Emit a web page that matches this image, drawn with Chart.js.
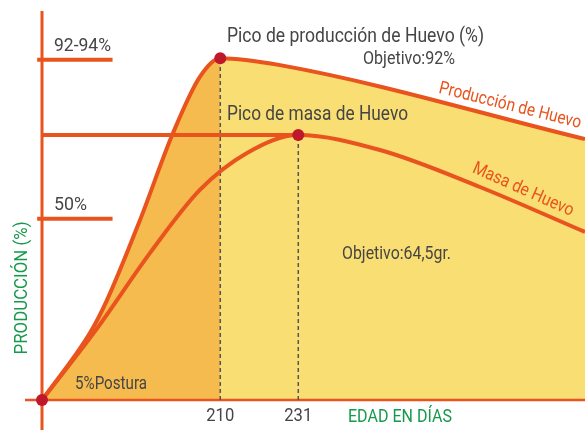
<!DOCTYPE html>
<html>
<head>
<meta charset="utf-8">
<script src="https://cdn.jsdelivr.net/npm/chart.js@4/dist/chart.umd.min.js"></script>
<style>
  html, body { margin: 0; padding: 0; background: #fff; }
  canvas { display: block; }
</style>
</head>
<body>
<canvas id="curva" width="585" height="430"></canvas>
<script>
// ==================== DATOS ====================
// edad en días (eje x) y producción (%)
const diasProd   = [162, 174.9, 179.5, 188.4, 197.3, 204.5, 210, 226.1, 308.2];
const produccion = [0, 18.3, 27.3, 49.2, 73.0, 88.3, 93.4, 91.5, 71.3];

const diasMasa = [162, 176.8, 191.1, 204.5, 217.2, 231, 253, 279.9, 308.2];
const masa     = [0, 19.5, 40.2, 57.4, 67.5, 72.4, 68.3, 58.2, 45.9];

const ticksX      = [210, 231];
const ticksXLabel = ['210', '231'];
const ticksY      = [93, 49.5];
const ticksYLabel = ['92-94%', '50%'];

const inicioPostura = 162;
const picoProd = { dia: 210, valor: 93.4 };
const picoMasa = { dia: 231, valor: 72.4 };

// colores
const NARANJA = '#e9531d';
const ROJO = '#c0182b';
const AMARILLO = '#f9de74';
const NARANJA_CLARO = '#f6bb4f';
const VERDE = '#16994a';
const GRIS = '#454545';
const FONT = 'Roboto, "DejaVu Sans", sans-serif';

const toXY = (xs, ys) => xs.map((x, i) => ({ x, y: ys[i] }));

// relleno: naranja hasta el pico, amarillo después
const rellenoBg = (ctx) => {
  const chart = ctx.chart;
  const ca = chart.chartArea;
  if (!ca) return AMARILLO;
  const px = chart.scales.x.getPixelForValue(picoProd.dia);
  const f = (px - ca.left) / (ca.right - ca.left);
  const g = chart.ctx.createLinearGradient(ca.left, 0, ca.right, 0);
  g.addColorStop(0, NARANJA_CLARO);
  g.addColorStop(f, NARANJA_CLARO);
  g.addColorStop(f, AMARILLO);
  g.addColorStop(1, AMARILLO);
  return g;
};

// texto estrecho (la fuente original es condensada): se ajusta al ancho w
const txt = (ctx, s, px, py, opt = {}) => {
  ctx.save();
  ctx.font = (opt.size || 18) + 'px ' + FONT;
  ctx.fillStyle = opt.color || GRIS;
  ctx.textBaseline = 'middle';
  ctx.textAlign = 'left';
  ctx.translate(px, py);
  if (opt.rot) ctx.rotate(opt.rot * Math.PI / 180);
  const m = ctx.measureText(s).width;
  const w = opt.w || m;
  const dx = opt.align === 'center' ? -w / 2 : 0;
  ctx.translate(dx, 0);
  ctx.scale(w / m, 1);
  ctx.fillText(s, 0, 0);
  ctx.restore();
};

// ejes, etiquetas y textos
const dibujoPlugin = {
  id: 'dibujo',
  afterDatasetDraw(chart, args) {
    if (args.index !== 0) return;
    const { ctx, scales: { x, y } } = chart;
    const x0 = x.getPixelForValue(inicioPostura);
    const y0 = y.getPixelForValue(0);
    ctx.save();
    ctx.strokeStyle = NARANJA;
    ctx.lineWidth = 3;
    ctx.beginPath();
    ctx.moveTo(x0, 11); ctx.lineTo(x0, 430);
    ctx.stroke();
    ctx.lineWidth = 2.5;
    ctx.beginPath();
    ctx.moveTo(25, y0); ctx.lineTo(585, y0);
    ctx.stroke();
    ctx.restore();
  },
  afterDatasetsDraw(chart) {
    const { ctx, scales: { x, y } } = chart;
    // etiquetas eje y
    const anchosY = [57, 33];
    ticksY.forEach((v, i) => txt(ctx, ticksYLabel[i], 54, y.getPixelForValue(v) - 13, { size: 18, w: anchosY[i] }));
    // etiquetas eje x
    ticksX.forEach((v, i) => txt(ctx, ticksXLabel[i], x.getPixelForValue(v), 416, { align: 'center', size: 18, w: 28 }));
    txt(ctx, 'EDAD EN DÍAS', 400, 417, { align: 'center', size: 19, w: 104, color: VERDE });
    txt(ctx, 'PRODUCCIÓN (%)', 22, 288, { align: 'center', size: 19, w: 133, color: VERDE, rot: -90 });

    txt(ctx, 'Pico de producción de Huevo (%)', 227, 37, { size: 21, w: 257 });
    txt(ctx, 'Objetivo:92%', 363, 59, { size: 18, w: 92 });
    txt(ctx, 'Pico de masa de Huevo', 227, 115, { size: 21, w: 181 });
    txt(ctx, 'Objetivo:64,5gr.', 342, 254, { size: 18, w: 109 });
    txt(ctx, '5%Postura', 75, 384, { size: 18, w: 72 });

    txt(ctx, 'Producción de Huevo', 510, 106, { align: 'center', size: 18, w: 146, color: NARANJA, rot: 14 });
    txt(ctx, 'Masa de Huevo', 523, 190, { align: 'center', size: 18, w: 109, color: NARANJA, rot: 24 });
  }
};

new Chart(document.getElementById('curva'), {
  type: 'line',
  data: {
    datasets: [
      { // relleno bajo la producción
        data: toXY(diasProd, produccion),
        backgroundColor: rellenoBg,
        borderWidth: 0,
        fill: 'origin',
        pointRadius: 0,
        cubicInterpolationMode: 'monotone',
        order: 10
      },
      { // líneas discontinuas de los picos
        data: [{ x: picoProd.dia, y: 0 }, { x: picoProd.dia, y: picoProd.valor }],
        borderColor: '#555',
        borderWidth: 1.5,
        borderDash: [4, 3],
        pointRadius: 0,
        fill: false,
        order: 9
      },
      {
        data: [{ x: picoMasa.dia, y: 0 }, { x: picoMasa.dia, y: picoMasa.valor }],
        borderColor: '#555',
        borderWidth: 1.5,
        borderDash: [4, 3],
        pointRadius: 0,
        fill: false,
        order: 9
      },
      { // marcas del eje y
        data: [{ x: 160.7, y: ticksY[0] }, { x: 181, y: ticksY[0] }],
        borderColor: NARANJA,
        borderWidth: 4,
        pointRadius: 0,
        fill: false,
        clip: false,
        order: 8
      },
      {
        data: [{ x: 160.7, y: ticksY[1] }, { x: 181, y: ticksY[1] }],
        borderColor: NARANJA,
        borderWidth: 4,
        pointRadius: 0,
        fill: false,
        clip: false,
        order: 8
      },
      { // línea horizontal al pico de masa
        data: [{ x: inicioPostura, y: picoMasa.valor }, { x: picoMasa.dia, y: picoMasa.valor }],
        borderColor: NARANJA,
        borderWidth: 4,
        pointRadius: 0,
        fill: false,
        order: 7
      },
      { // masa de huevo
        data: toXY(diasMasa, masa),
        borderColor: NARANJA,
        borderWidth: 4,
        pointRadius: 0,
        fill: false,
        cubicInterpolationMode: 'monotone',
        order: 6
      },
      { // producción de huevo
        data: toXY(diasProd, produccion),
        borderColor: NARANJA,
        borderWidth: 4,
        pointRadius: 0,
        fill: false,
        cubicInterpolationMode: 'monotone',
        order: 5
      },
      { // puntos
        data: [{ x: inicioPostura, y: 0 }, { x: picoProd.dia, y: picoProd.valor }, { x: picoMasa.dia, y: picoMasa.valor }],
        showLine: false,
        pointRadius: 6,
        pointBackgroundColor: ROJO,
        pointBorderWidth: 0,
        clip: false,
        order: 1
      }
    ]
  },
  options: {
    responsive: false,
    animation: false,
    layout: { autoPadding: false, padding: { left: 42, right: 0, top: 0, bottom: 30 } },
    plugins: { legend: { display: false }, tooltip: { enabled: false } },
    scales: {
      x: { type: 'linear', min: 162, max: 308.2, display: false },
      y: { type: 'linear', min: 0, max: 109.3, display: false }
    }
  },
  plugins: [dibujoPlugin]
});
</script>
</body>
</html>
